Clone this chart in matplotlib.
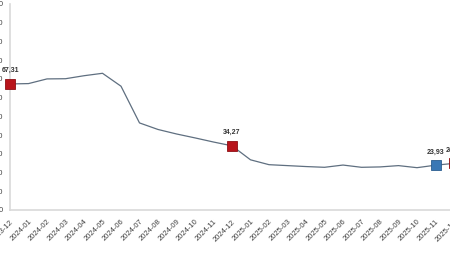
import matplotlib
matplotlib.use("Agg")
import matplotlib.pyplot as plt
import numpy as np

plt.rcParams['font.family'] = ['Liberation Sans', 'DejaVu Sans']

months = ['2023-12'] + ['2024-%02d' % m for m in range(1, 13)] + ['2025-%02d' % m for m in range(1, 13)]
values = [67.31, 67.5, 70.0, 70.1, 71.7, 73.0, 66.1, 46.5, 43.0, 40.6, 38.5, 36.3,
          34.27, 26.8, 24.2, 23.7, 23.2, 22.8, 24.0, 22.8, 23.0, 23.7, 22.6, 23.93, 24.9]
red_points = [0, 12, 24]
blue_points = [23]
yticks = list(range(0, 111, 10))

x = np.arange(len(months))

fig = plt.figure(figsize=(4.5, 2.8), dpi=100)
# plot area runs past the right edge, like the cropped original
ax = fig.add_axes([10 / 450, 70 / 280, 444 / 450, 206 / 280])

ax.plot(x, values, color='#5F6F80', lw=0.9, clip_on=False, zorder=2)

for i in red_points:
    ax.plot(x[i], values[i], marker='s', ms=6.5, color='#B8141B', mec='#8E0F14', mew=0.6,
            clip_on=False, zorder=3)
for i in blue_points:
    ax.plot(x[i], values[i], marker='s', ms=6.5, color='#3A78B5', mec='#2A5D8F', mew=0.6,
            clip_on=False, zorder=3)

for i in red_points + blue_points:
    ax.annotate(f'{values[i]:.2f}'.replace('.', ','), (x[i], values[i]),
                xytext=(0, 7), textcoords='offset points', ha='center', va='bottom',
                fontsize=5, fontweight='bold', color='#333333', annotation_clip=False)

ax.set_xlim(0, 24)
ax.set_ylim(0, 110)
ax.set_yticks(yticks)
ax.set_yticklabels([str(v) for v in yticks], fontsize=5.5, color='#404040')
ax.set_xticks(x)
ax.set_xticklabels(months, rotation=45, ha='right', rotation_mode='anchor',
                   fontsize=5.5, color='#404040')
ax.tick_params(axis='both', length=0)
ax.tick_params(axis='x', pad=6)
ax.tick_params(axis='y', pad=5)

for s in ['top', 'right']:
    ax.spines[s].set_visible(False)
for s in ['left', 'bottom']:
    ax.spines[s].set_color('#D9D9D9')
    ax.spines[s].set_linewidth(1.2)

fig.savefig('out.png', dpi=100)
